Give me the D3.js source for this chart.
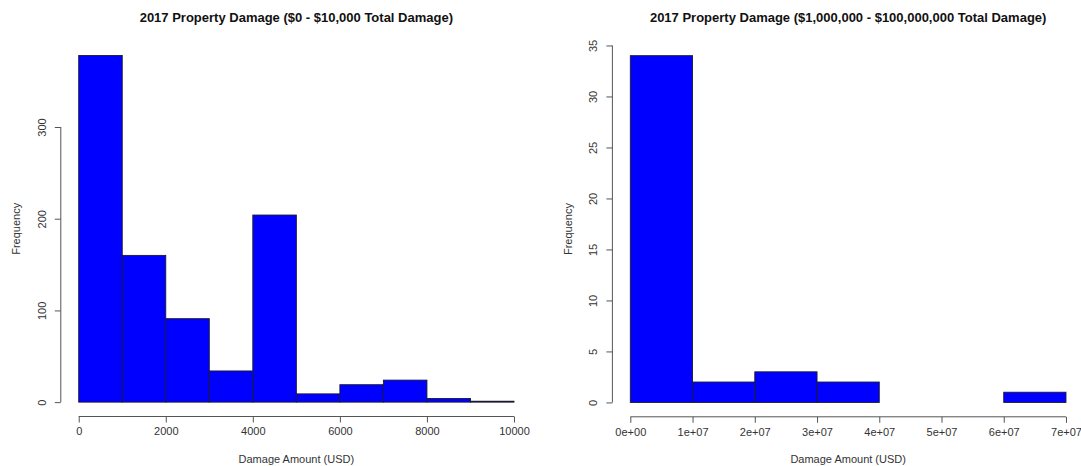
<!DOCTYPE html>
<html lang="en">
<head>
    <meta charset="UTF-8">
    <title>2017 Property Damage</title>
    <script src="https://d3js.org/d3.v7.min.js"></script>
    <style>
        body {
            margin: 0;
            background: #fff;
            font-family: "Liberation Sans", Arial, sans-serif;
        }
        .tick-label, .axis-title {
            fill: #333;
            font-size: 11px;
        }
        .chart-title {
            fill: #111;
            font-size: 13px;
            font-weight: bold;
        }
    </style>
</head>
<body>
    <svg id="chart" width="1081" height="466"></svg>
    <script>
        // histogram bins
        const smallBreaks = [0, 1000, 2000, 3000, 4000, 5000, 6000, 7000, 8000, 9000, 10000];
        const smallCounts = [378, 160, 91, 34, 204, 9, 19, 24, 4, 1];
        const smallXTicks = [0, 2000, 4000, 6000, 8000, 10000];
        const smallXLabels = ["0", "2000", "4000", "6000", "8000", "10000"];
        const smallYTicks = [0, 100, 200, 300];

        const bigBreaks = [0, 1e7, 2e7, 3e7, 4e7, 5e7, 6e7, 7e7];
        const bigCounts = [34, 2, 3, 2, 0, 0, 1];
        const bigXTicks = [0, 1e7, 2e7, 3e7, 4e7, 5e7, 6e7, 7e7];
        const bigXLabels = ["0e+00", "1e+07", "2e+07", "3e+07", "4e+07", "5e+07", "6e+07", "7e+07"];
        const bigYTicks = [0, 5, 10, 15, 20, 25, 30, 35];

        const svg = d3.select("#chart");

        function histogram(opts) {
            const { box, breaks, counts, xTicks, xLabels, yTicks, title } = opts;
            const xmin = breaks[0], xmax = breaks[breaks.length - 1];
            const ymax = d3.max(counts);
            const padX = (xmax - xmin) * 0.04, padY = ymax * 0.04;

            const x = d3.scaleLinear().domain([xmin - padX, xmax + padX]).range([box.left, box.right]);
            const y = d3.scaleLinear().domain([-padY, ymax + padY]).range([box.bottom, box.top]);

            const g = svg.append("g");

            // bars
            const bins = counts.map((c, i) => ({ x0: breaks[i], x1: breaks[i + 1], n: c }));
            g.selectAll("rect.bar")
                .data(bins)
                .enter().append("rect")
                .attr("class", "bar")
                .attr("x", d => x(d.x0))
                .attr("y", d => y(d.n))
                .attr("width", d => x(d.x1) - x(d.x0))
                .attr("height", d => y(0) - y(d.n))
                .style("fill", "#0000ff")
                .style("stroke", "#1a1a2e")
                .style("stroke-width", 0.9);

            // x axis, a bit below the bars like base R
            const xAxis = d3.axisBottom(x)
                .tickValues(xTicks)
                .tickSize(6)
                .tickPadding(5)
                .tickSizeOuter(0)
                .tickFormat((d, i) => xLabels[i]);
            const gx = g.append("g")
                .attr("transform", `translate(0,${box.bottom + 0.5})`)
                .call(xAxis);
            gx.select(".domain").remove();
            gx.append("line")
                .attr("x1", x(xTicks[0])).attr("x2", x(xTicks[xTicks.length - 1]))
                .style("stroke", "#555");
            gx.selectAll(".tick line").style("stroke", "#555");
            gx.selectAll(".tick text")
                .attr("class", "tick-label")
                .style("font-family", "'Liberation Sans', Arial, sans-serif")
                .style("font-size", "11px");

            // y axis with rotated labels
            const yAxis = d3.axisLeft(y)
                .tickValues(yTicks)
                .tickSize(6)
                .tickSizeOuter(0);
            const gy = g.append("g")
                .attr("transform", `translate(${box.left - 0.5},0)`)
                .call(yAxis);
            gy.select(".domain").remove();
            gy.append("line")
                .attr("y1", y(yTicks[0])).attr("y2", y(yTicks[yTicks.length - 1]))
                .style("stroke", "#555");
            gy.selectAll(".tick line").style("stroke", "#555");
            gy.selectAll(".tick text")
                .attr("class", "tick-label")
                .attr("x", null).attr("dy", null)
                .attr("text-anchor", "middle")
                .attr("dominant-baseline", "central")
                .attr("transform", "translate(-19,0) rotate(-90)")
                .style("font-family", "'Liberation Sans', Arial, sans-serif")
                .style("font-size", "11px");

            // titles
            const cx = (box.left + box.right) / 2;
            g.append("text")
                .attr("class", "chart-title")
                .attr("x", cx).attr("y", 17)
                .attr("text-anchor", "middle")
                .attr("dominant-baseline", "central")
                .text(title);

            g.append("text")
                .attr("class", "axis-title")
                .attr("x", cx).attr("y", 459)
                .attr("text-anchor", "middle")
                .attr("dominant-baseline", "central")
                .text("Damage Amount (USD)");

            g.append("text")
                .attr("class", "axis-title")
                .attr("transform", `translate(${box.left - 45},${(box.top + box.bottom) / 2}) rotate(-90)`)
                .attr("text-anchor", "middle")
                .attr("dominant-baseline", "central")
                .text("Frequency");
        }

        histogram({
            box: { left: 61.3, right: 531.4, top: 41.6, bottom: 416 },
            breaks: smallBreaks,
            counts: smallCounts,
            xTicks: smallXTicks,
            xLabels: smallXLabels,
            yTicks: smallYTicks,
            title: "2017 Property Damage ($0 - $10,000 Total Damage)"
        });

        histogram({
            box: { left: 612.9, right: 1083.4, top: 41.8, bottom: 416.3 },
            breaks: bigBreaks,
            counts: bigCounts,
            xTicks: bigXTicks,
            xLabels: bigXLabels,
            yTicks: bigYTicks,
            title: "2017 Property Damage ($1,000,000 - $100,000,000 Total Damage)"
        });
    </script>
</body>
</html>
